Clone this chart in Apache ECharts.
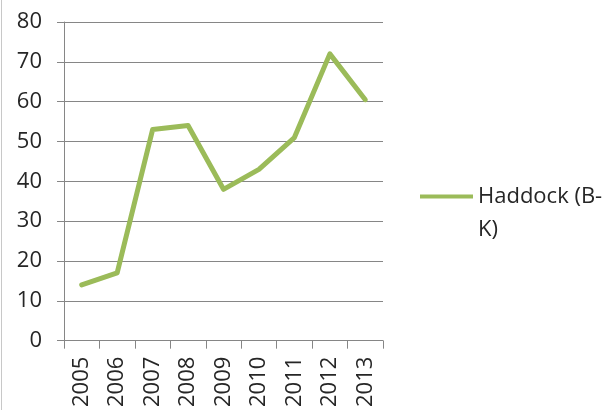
<!DOCTYPE html>
<html>
<head>
<meta charset="utf-8">
<script src="https://cdn.jsdelivr.net/npm/echarts@6/dist/echarts.min.js"></script>
<style>html,body{margin:0;padding:0;background:#fff}#c{width:605px;height:410px}</style>
</head>
<body>
<div id="c"></div>
<script>
const years = ['2005','2006','2007','2008','2009','2010','2011','2012','2013'];
const haddock = [14, 17, 53, 54, 38, 43, 51, 72, 60.5];
const seriesName = 'Haddock (B-K)';
const yTicks = {min: 0, max: 80, interval: 10};

const chart = echarts.init(document.getElementById('c'), null, {renderer: 'canvas'});
const FONT = 'Open Sans';
chart.setOption({
  animation: false,
  backgroundColor: '#fff',
  grid: {left: 64, right: 222, top: 22, bottom: 67, containLabel: false},
  graphic: [{type: 'line', shape: {x1: 1.5, y1: 0, x2: 1.5, y2: 410}, style: {stroke: '#c8c8c8', lineWidth: 1}}],
  legend: {
    left: 420, top: 147,
    padding: 0,
    orient: 'vertical',
    icon: 'rect',
    itemWidth: 53, itemHeight: 4,
    itemGap: 0,
    data: [seriesName],
    formatter: function (n) { return '{e| }\n{a|Haddock (B-}\n{a|K)}'; },
    textStyle: {
      fontFamily: FONT, fontSize: 22, color: '#262626', lineHeight: 33,
      rich: {
        e: {fontFamily: FONT, fontSize: 22, lineHeight: 33},
        a: {fontFamily: FONT, fontSize: 22, lineHeight: 33, color: '#262626'}
      }
    }
  },
  xAxis: {
    type: 'category',
    data: years,
    boundaryGap: true,
    axisLine: {lineStyle: {color: '#868686', width: 1}},
    axisTick: {show: true, length: 8, alignWithLabel: false, lineStyle: {color: '#868686'}},
    axisLabel: {rotate: 90, margin: 16, fontFamily: FONT, fontSize: 22, color: '#262626', interval: 0}
  },
  yAxis: {
    type: 'value',
    min: yTicks.min, max: yTicks.max, interval: yTicks.interval,
    axisLine: {show: true, lineStyle: {color: '#868686', width: 1}},
    axisTick: {show: true, length: 7, lineStyle: {color: '#868686'}},
    splitLine: {show: true, lineStyle: {color: '#868686', width: 1}},
    axisLabel: {margin: 22, fontFamily: FONT, fontSize: 22, color: '#262626'}
  },
  series: [{
    name: seriesName,
    type: 'line',
    data: haddock,
    symbol: 'none',
    lineStyle: {color: '#9BBB59', width: 5, cap: 'round', join: 'round'},
    itemStyle: {color: '#9BBB59'}
  }]
});
</script>
</body>
</html>
